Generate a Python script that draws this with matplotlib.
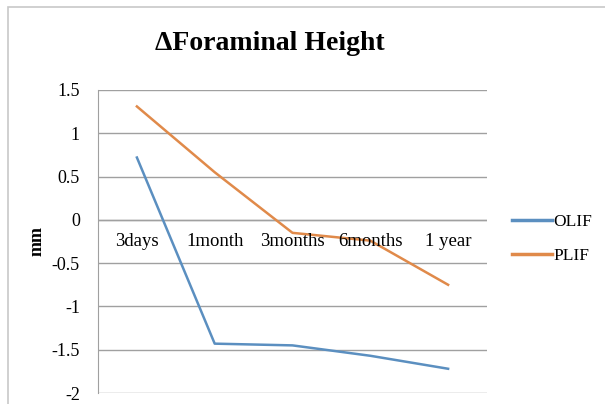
import matplotlib
matplotlib.use("Agg")
import matplotlib.pyplot as plt
from matplotlib.patches import Rectangle

categories = ["3days", "1month", "3months", "6months", "1 year"]
olif = [0.72, -1.43, -1.45, -1.57, -1.72]
plif = [1.31, 0.55, -0.15, -0.24, -0.75]
yticks = [1.5, 1, 0.5, 0, -0.5, -1, -1.5, -2]

plt.rcParams['font.family'] = ['Liberation Serif', 'DejaVu Serif']

fig = plt.figure(figsize=(6.05, 4.04), dpi=100)
fig.patches.append(Rectangle((8/605, -0.1), 1.2, (1 - 7/404) + 0.1, transform=fig.transFigure,
                             fill=False, edgecolor='#c8c8c8', linewidth=1.2))
ax = fig.add_axes([98/605, 1 - 393/404, (487 - 98)/605, (393 - 90)/404])

x = list(range(len(categories)))
ax.plot(x, olif, color='#5b8fc0', linewidth=1.8, label='OLIF')
ax.plot(x, plif, color='#e08a4a', linewidth=1.8, label='PLIF')

ax.set_xlim(-0.5, len(categories) - 0.5)
ax.set_ylim(-2, 1.5)
ax.set_yticks(yticks)
ax.set_yticklabels([f"{t:g}".replace('-', '\u2010') for t in yticks], fontsize=13)
ax.yaxis.grid(True, color='#a0a0a0', linewidth=1.0)
ax.set_axisbelow(True)
ax.tick_params(axis='y', length=0, pad=13)
ax.set_xticks([])
for s in ['top', 'right', 'bottom']:
    ax.spines[s].set_visible(False)
ax.spines['left'].set_color('#a0a0a0')
ax.axhline(0, color='#a0a0a0', linewidth=1.0, zorder=0)

for i, c in enumerate(categories):
    ax.text(i, -0.25, c, ha='center', va='center', fontsize=13.5)

ax.set_ylabel('mm', fontsize=13, fontweight='bold', labelpad=4)
fig.text(270/605, 1 - 44/404, 'ΔForaminal Height', ha='center', va='center',
         fontsize=20, fontweight='bold')

leg = ax.legend(loc='center left', bbox_to_anchor=(512/605, 1 - 239/404),
                bbox_transform=fig.transFigure, frameon=False, borderpad=0,
                borderaxespad=0, fontsize=12.5, handlelength=2.3,
                handletextpad=0.1, labelspacing=1.0)
for h in leg.get_lines():
    h.set_linewidth(2.5)

fig.savefig('out.png', dpi=100)
